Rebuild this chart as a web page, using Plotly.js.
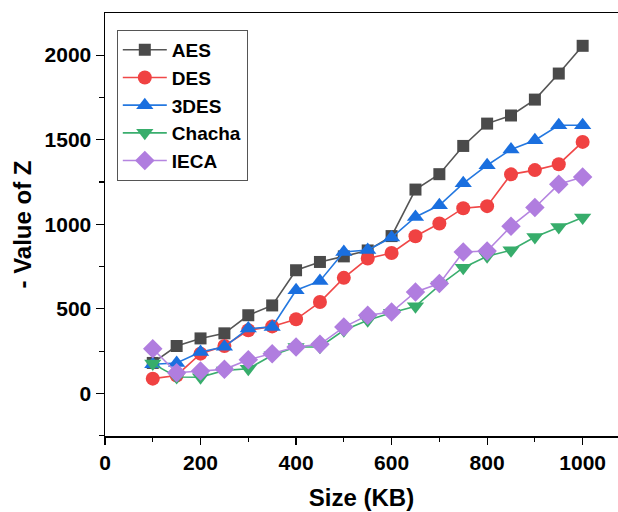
<!DOCTYPE html>
<html>
<head>
<meta charset="utf-8">
<script src="https://cdn.plot.ly/plotly-3.0.1.min.js"></script>
<style>html,body{margin:0;padding:0;background:#fff;}#chart{width:618px;height:512px;}</style>
</head>
<body>
<div id="chart"></div>
<script>
const sizes = [100,150,200,250,300,350,400,450,500,550,600,650,700,750,800,850,900,950,1000];
const aes    = [180,280,325,355,462,520,728,777,810,845,930,1205,1296,1463,1595,1643,1737,1891,2055];
const des    = [87,106,235,280,373,396,438,540,683,797,830,929,1004,1095,1107,1295,1320,1355,1487];
const tdes   = [172,180,245,275,383,393,610,665,836,848,921,1043,1112,1242,1349,1442,1497,1585,1585];
const chacha = [176,97,95,136,146,225,274,275,373,432,477,515,639,743,811,846,925,984,1040];
const ieca   = [264,122,132,142,199,235,274,290,392,462,481,600,649,836,842,988,1099,1236,1280];

const seriesNames = ['AES','DES','3DES','Chacha','IECA'];
const seriesData = [aes, des, tdes, chacha, ieca];
const markerColors = ['#4a4a4a','#f04242','#1a6fdf','#37ad6b','#b07ddf'];
const lineColors = ['#555555','#f04848','#2478e0','#3aae6e','#b585e0'];
const symbols = ['square','circle','triangle-up','triangle-down','diamond'];
const msizes = [12,14,15,15,15];

const font = 'Liberation Sans, Arial, sans-serif';
const traces = seriesNames.map((n,i)=>({
  x: sizes, y: seriesData[i], name: n, type:'scatter', mode:'lines+markers',
  line:{color: lineColors[i], width:1.6},
  marker:{symbol: symbols[i], size: msizes[i], color: markerColors[i], line:{width:0}}
}));

const layout = {
  width:618, height:512,
  margin:{l:105, r:0, t:13, b:76},
  paper_bgcolor:'#fff', plot_bgcolor:'#fff',
  showlegend:true,
  legend:{x:0.023, y:0.96, xanchor:'left', yanchor:'top',
    bordercolor:'#555', borderwidth:1, bgcolor:'rgba(255,255,255,0)',
    font:{family:font, size:19, color:'#000', weight:'bold'},
    tracegroupgap:0, itemwidth:44},
  xaxis:{range:[0,1074], tickvals:[0,200,400,600,800,1000],
    ticks:'outside', ticklen:7, tickwidth:1.2, tickcolor:'#000',
    minor:{tickvals:[100,300,500,700,900], ticks:'outside', ticklen:4, tickwidth:1.2, tickcolor:'#000'},
    showline:true, linecolor:'#000', linewidth:1.5, mirror:true,
    showgrid:false, zeroline:false,
    tickfont:{family:font, size:21, color:'#000', weight:'bold'},
    title:{text:'Size (KB)', font:{family:font, size:24, color:'#000', weight:'bold'}, standoff:16}},
  yaxis:{range:[-252,2249], tickvals:[0,500,1000,1500,2000],
    ticks:'outside', ticklen:8, tickwidth:1.2, tickcolor:'#000',
    minor:{tickvals:[-250,250,750,1250,1750,2250], ticks:'outside', ticklen:5, tickwidth:1.2, tickcolor:'#000'},
    showline:true, linecolor:'#000', linewidth:1.5, mirror:false,
    showgrid:false, zeroline:false,
    tickfont:{family:font, size:21, color:'#000', weight:'bold'},
    title:{text:'- Value of Z', font:{family:font, size:24, color:'#000', weight:'bold'}, standoff:6}}
};
Plotly.newPlot('chart', traces, layout, {displayModeBar:false, staticPlot:true});
</script>
</body>
</html>
